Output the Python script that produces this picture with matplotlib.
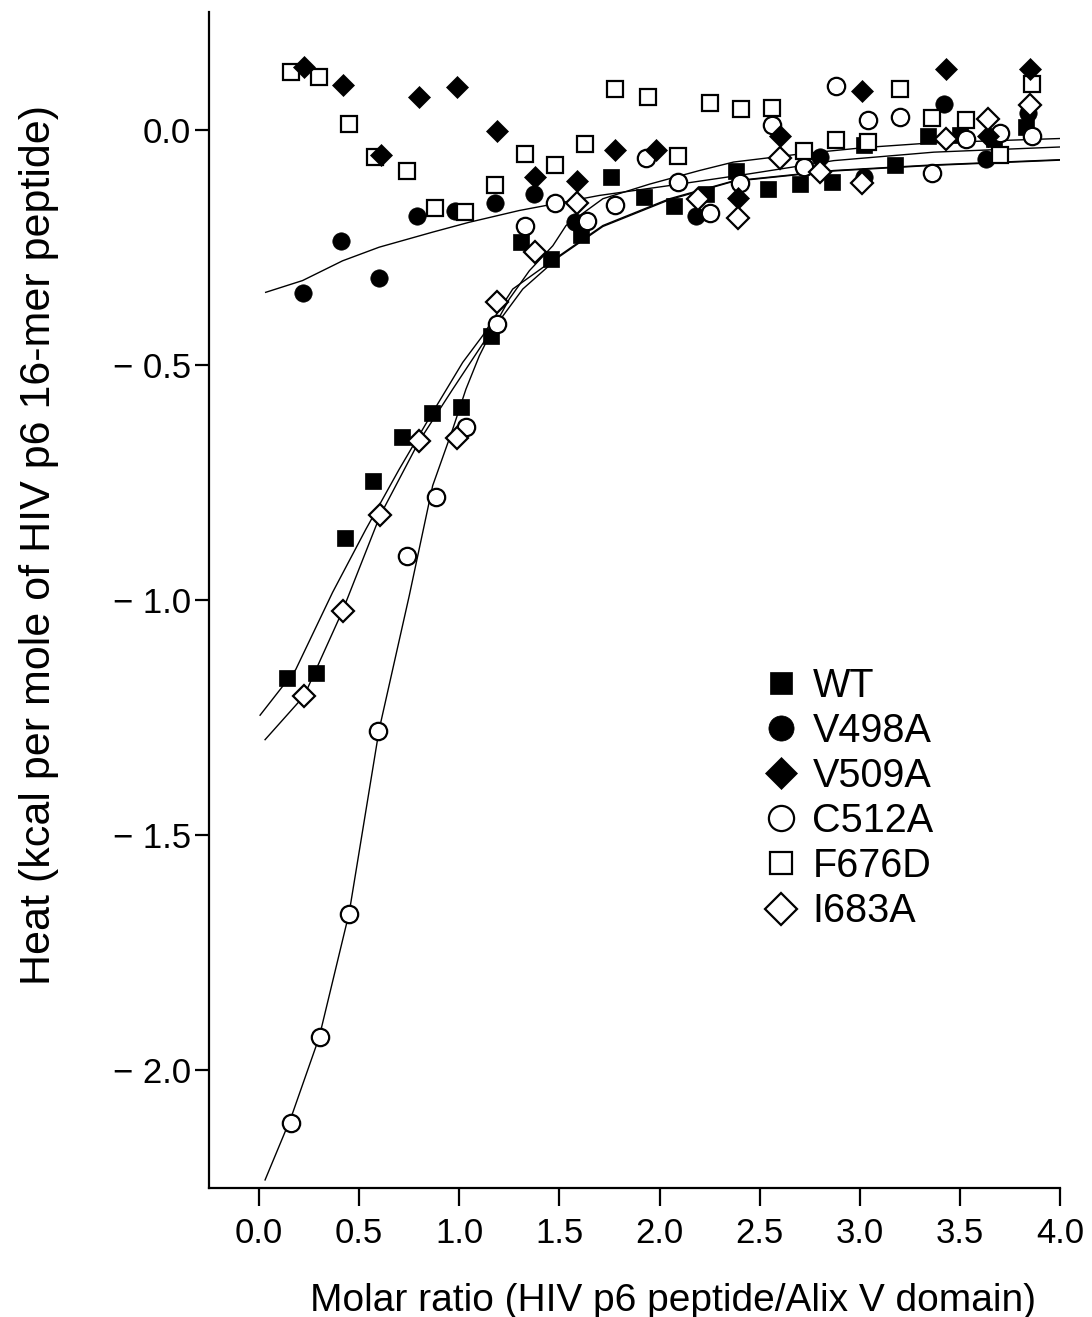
import numpy as np
import matplotlib
matplotlib.use('Agg')
import matplotlib.pyplot as plt

plt.rcParams['font.family'] = ['Liberation Sans', 'DejaVu Sans']

# ---- data ----
wt_x = [0.138, 0.283, 0.428, 0.57, 0.713, 0.862, 1.008, 1.158, 1.31, 1.46, 1.61, 1.76, 1.92,
        2.07, 2.23, 2.38, 2.54, 2.70, 2.86, 3.02, 3.175, 3.34, 3.50, 3.67, 3.83]
wt_y = [-1.165, -1.156, -0.869, -0.747, -0.653, -0.603, -0.589, -0.438, -0.238, -0.275, -0.224, -0.100, -0.143,
        -0.162, -0.137, -0.089, -0.126, -0.116, -0.112, -0.033, -0.075, -0.013, -0.011, -0.020, 0.005]

v498_x = [0.217, 0.41, 0.60, 0.79, 0.98, 1.18, 1.375, 1.58, 2.18, 2.80, 3.02, 3.42, 3.63, 3.84]
v498_y = [-0.348, -0.236, -0.316, -0.183, -0.174, -0.156, -0.137, -0.197, -0.183, -0.059, -0.100, 0.055, -0.062, 0.035]

v509_x = [0.225, 0.42, 0.61, 0.80, 0.99, 1.19, 1.38, 1.59, 1.78, 1.98, 2.39, 2.60, 3.01, 3.43, 3.64, 3.85]
v509_y = [0.133, 0.094, -0.055, 0.069, 0.090, -0.002, -0.101, -0.110, -0.043, -0.043, -0.146, -0.013, 0.081, 0.128, -0.014, 0.128]

c512_x = [0.158, 0.303, 0.447, 0.595, 0.737, 0.883, 1.033, 1.187, 1.33, 1.48, 1.64, 1.78, 1.93,
          2.09, 2.25, 2.40, 2.56, 2.72, 2.88, 3.04, 3.20, 3.36, 3.53, 3.70, 3.86]
c512_y = [-2.112, -1.930, -1.667, -1.279, -0.906, -0.782, -0.633, -0.413, -0.204, -0.156, -0.194, -0.160, -0.060,
          -0.112, -0.177, -0.113, 0.010, -0.080, 0.092, 0.021, 0.026, -0.092, -0.021, -0.007, -0.014]

f676_x = [0.16, 0.30, 0.45, 0.58, 0.74, 0.88, 1.03, 1.18, 1.33, 1.48, 1.63, 1.78, 1.94,
          2.09, 2.25, 2.405, 2.56, 2.72, 2.88, 3.04, 3.20, 3.36, 3.53, 3.70, 3.86]
f676_y = [0.122, 0.111, 0.012, -0.059, -0.087, -0.167, -0.176, -0.118, -0.051, -0.075, -0.031, 0.087, 0.069,
          -0.057, 0.057, 0.043, 0.046, -0.045, -0.023, -0.027, 0.087, 0.024, 0.021, -0.055, 0.097]

i683_x = [0.225, 0.417, 0.605, 0.80, 0.99, 1.187, 1.38, 1.59, 2.19, 2.39, 2.60, 2.80, 3.01, 3.43, 3.64, 3.85]
i683_y = [-1.204, -1.023, -0.820, -0.662, -0.655, -0.366, -0.260, -0.156, -0.147, -0.189, -0.061, -0.091, -0.113, -0.021, 0.023, 0.053]

# fitted curves
fit_wt_x = [0.005, 0.183, 0.367, 0.533, 0.70, 0.867, 1.017, 1.117, 1.267, 1.50, 1.717, 2.05, 2.37, 2.87, 3.37, 4.0]
fit_wt_y = [-1.245, -1.148, -0.984, -0.850, -0.722, -0.601, -0.495, -0.438, -0.339, -0.268, -0.204, -0.147, -0.109, -0.087, -0.075, -0.064]

fit_i683_x = [0.03, 0.225, 0.417, 0.605, 0.80, 0.967, 1.133, 1.317, 1.50, 1.717, 2.05, 2.37, 2.87, 3.37, 4.0]
fit_i683_y = [-1.297, -1.204, -1.023, -0.820, -0.662, -0.552, -0.445, -0.339, -0.270, -0.206, -0.149, -0.110, -0.088, -0.076, -0.065]

fit_c512_x = [0.03, 0.16, 0.30, 0.45, 0.60, 0.75, 0.867, 0.967, 1.033, 1.10, 1.167, 1.25, 1.35, 1.467, 1.533,
              1.717, 1.95, 2.20, 2.37, 2.70, 3.03, 3.37, 4.0]
fit_c512_y = [-2.233, -2.100, -1.930, -1.665, -1.275, -0.991, -0.757, -0.637, -0.552, -0.481, -0.424, -0.360, -0.300, -0.247, -0.204,
              -0.147, -0.116, -0.087, -0.069, -0.052, -0.038, -0.028, -0.019]

fit_v498_x = [0.033, 0.217, 0.417, 0.60, 0.867, 1.05, 1.30, 1.70, 2.05, 2.45, 2.87, 3.37, 4.0]
fit_v498_y = [-0.346, -0.321, -0.279, -0.250, -0.218, -0.197, -0.172, -0.140, -0.119, -0.094, -0.066, -0.048, -0.037]

fig = plt.figure(figsize=(10.92, 13.17), dpi=100)
ax = fig.add_axes([0.1914, 0.098, 0.7793, 0.8929])

for fx, fy in [(fit_wt_x, fit_wt_y), (fit_i683_x, fit_i683_y), (fit_c512_x, fit_c512_y), (fit_v498_x, fit_v498_y)]:
    ax.plot(fx, fy, color='black', lw=1.0, zorder=2)

ms_sq = 11
ms_ci = 12.5
ms_di = 11.5
ew = 1.6
h_wt, = ax.plot(wt_x, wt_y, 's', ms=ms_sq, mfc='black', mec='black', mew=0.5, ls='none', zorder=3, label='WT')
h_v498, = ax.plot(v498_x, v498_y, 'o', ms=ms_ci, mfc='black', mec='black', mew=0.5, ls='none', zorder=3, label='V498A')
h_c512, = ax.plot(c512_x, c512_y, 'o', ms=ms_ci, mfc='white', mec='black', mew=ew, ls='none', zorder=3, label='C512A')
h_f676, = ax.plot(f676_x, f676_y, 's', ms=ms_sq, mfc='white', mec='black', mew=ew, ls='none', zorder=3, label='F676D')
h_v509, = ax.plot(v509_x, v509_y, 'D', ms=ms_di, mfc='black', mec='black', mew=0.5, ls='none', zorder=3, label='V509A')
h_i683, = ax.plot(i683_x, i683_y, 'D', ms=ms_di, mfc='white', mec='black', mew=ew, ls='none', zorder=3, label='I683A')

ax.set_xlim(-0.25, 4.0)
ax.set_ylim(-2.25, 0.25)
ax.set_xticks(np.arange(0, 4.01, 0.5))
ax.set_xticklabels(['%.1f' % v for v in np.arange(0, 4.01, 0.5)])
yt = [0.0, -0.5, -1.0, -1.5, -2.0]
ax.set_yticks(yt)
ax.set_yticklabels(['0.0' if v == 0 else '\u2212 %.1f' % abs(v) for v in yt])

for s in ['top', 'right']:
    ax.spines[s].set_visible(False)
for s in ['left', 'bottom']:
    ax.spines[s].set_linewidth(1.6)
ax.tick_params(axis='y', direction='out', length=10, width=1.6, labelsize=25, pad=3)
ax.tick_params(axis='x', direction='out', length=13, width=1.6, labelsize=25, pad=8)

ax.set_xlabel('Molar ratio (HIV p6 peptide/Alix V domain)', fontsize=28)
ax.xaxis.set_label_coords(0.545, -0.081)
ax.set_ylabel('Heat (kcal per mole of HIV p6 16-mer peptide)', fontsize=31)
ax.yaxis.set_label_coords(-0.176, 0.547)

ax.legend(handles=[h_wt, h_v498, h_v509, h_c512, h_f676, h_i683], loc='upper left',
          bbox_to_anchor=(0.63, 0.46), frameon=False, fontsize=28.5, markerscale=1.45,
          handlelength=0.8, handletextpad=0.4, labelspacing=0.18, borderpad=0)

fig.savefig('out.png', dpi=100)
